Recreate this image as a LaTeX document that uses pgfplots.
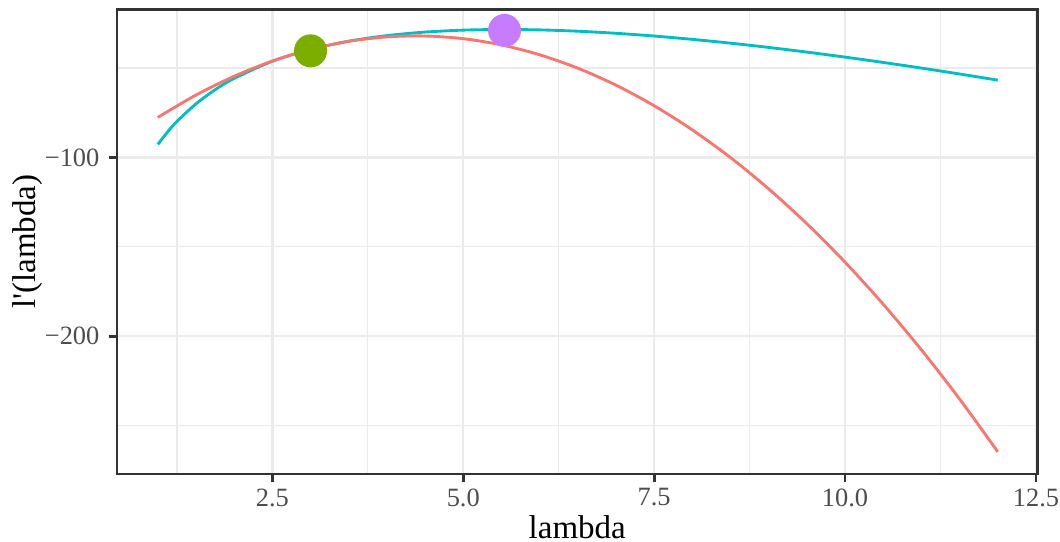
\documentclass[border=0pt]{standalone}
\usepackage{fontspec}
\setmainfont{Liberation Serif}[Ligatures=TeXOff]
\usepackage{pgfplots}
\pgfplotsset{compat=1.18}
\definecolor{ggred}{HTML}{F8766D}
\definecolor{ggcyan}{HTML}{00BFC4}
\definecolor{gggreen}{HTML}{7CAE00}
\definecolor{ggpurple}{HTML}{C77CFF}
\definecolor{gridc}{HTML}{EBEBEB}
\definecolor{g20}{HTML}{333333}
\definecolor{g30}{HTML}{4D4D4D}
\begin{document}
\begin{tikzpicture}
\begin{axis}[
  at={(0,0)}, anchor=south west,
  scale only axis, width=306.83pt, height=154.83pt,
  xmin=0.465, xmax=12.52, ymin=-277, ymax=-17.3,
  xtick={2.5,5,7.5,10,12.5}, xticklabels={2.5,5.0,7.5,10.0,12.5},
  minor xtick={1.25,3.75,6.25,8.75,11.25},
  ytick={-200,-100}, yticklabels={−200,−100},
  minor ytick={-250,-150,-50},
  grid=both,
  major grid style={color=gridc, line width=0.75pt},
  minor grid style={color=gridc, line width=0.4pt},
  minor tick length=0pt,
  major tick length=2.67pt,
  tick align=outside,
  xtick pos=bottom, ytick pos=left,
  every tick/.style={color=g20, line width=0.9pt},
  axis line style={color=g20, line width=0.9pt},
  ticklabel style={font=\fontsize{8.8}{10}\selectfont, text=g30},
  xticklabel style={inner sep=0pt, anchor=north, yshift=-2pt},
  yticklabel style={inner sep=0pt, anchor=east, xshift=-3pt},
  xlabel={lambda}, ylabel={l'(lambda)},
  label style={font=\fontsize{11}{13}\selectfont},
  xlabel style={at={(axis description cs:0.5,0)}, anchor=base, yshift=-21.33pt},
  ylabel style={at={(axis description cs:-0.088,0.5)}, anchor=base},
]
\addplot[ggcyan, line width=0.95pt, smooth] coordinates {
(1,-92.70) (1.125,-85.85) (1.25,-79.88) (1.5,-70.01) (1.75,-62.16) (2,-55.79)
(2.5,-46.23) (3,-39.60) (3.5,-35.00) (4,-31.89) (4.5,-29.91) (5,-28.82)
(5.5,-28.46) (6,-28.69) (6.5,-29.43) (7,-30.59) (7.5,-32.13) (8,-33.98)
(8.5,-36.12) (9,-38.50) (9.5,-41.11) (10,-43.91) (10.5,-46.90) (11,-50.05)
(11.5,-53.35) (12,-56.79)};
\addplot[ggred, line width=0.95pt, smooth] coordinates {
(1,-77.6) (1.5,-65.1) (2,-54.6) (2.5,-46.1) (3,-39.6) (3.5,-35.1) (4,-32.6)
(4.5,-32.1) (5,-33.6) (5.5,-37.1) (6,-42.6) (6.5,-50.1) (7,-59.6) (7.5,-71.1)
(8,-84.6) (8.5,-100.1) (9,-117.6) (9.5,-137.1) (10,-158.6) (10.5,-182.1)
(11,-207.6) (11.5,-235.1) (12,-264.6)};
\addplot[only marks, mark=*, mark size=5.3pt, color=gggreen] coordinates {(3,-40.4)};
\addplot[only marks, mark=*, mark size=5.3pt, color=ggpurple] coordinates {(5.54,-29.0)};
\end{axis}
\pgfresetboundingbox
\path (-39pt,-22.33pt) rectangle (314.33pt,158pt);
\end{tikzpicture}
\end{document}
